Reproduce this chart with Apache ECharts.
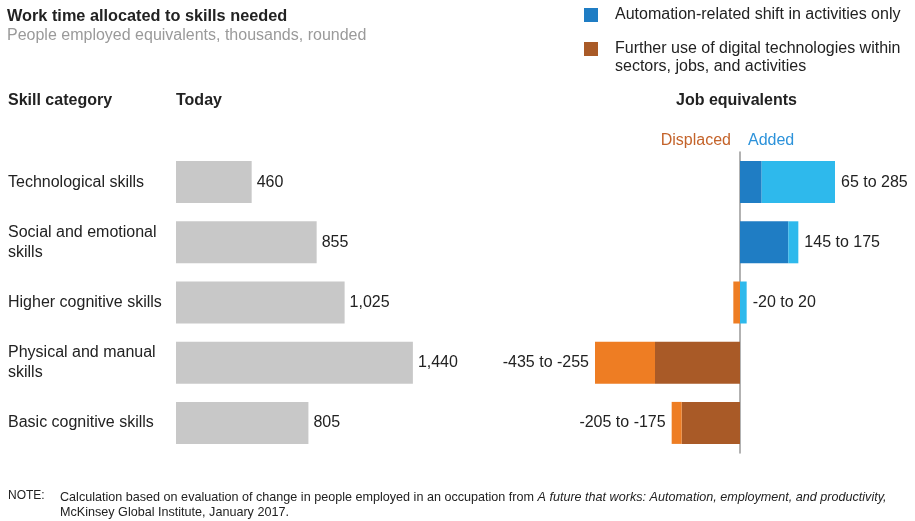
<!DOCTYPE html>
<html>
<head>
<meta charset="utf-8">
<script src="https://cdn.jsdelivr.net/npm/echarts@6/dist/echarts.min.js"></script>
<style>
html,body{margin:0;padding:0;background:#fff;}
#c{width:915px;height:521px;}
</style>
</head>
<body>
<div id="c"></div>
<script>
const categories = ['Technological skills', 'Social and emotional\nskills', 'Higher cognitive skills', 'Physical and manual\nskills', 'Basic cognitive skills'];
const todayValues = [460, 855, 1025, 1440, 805];
const addedAutomation = [65, 145, null, null, null];
const addedFurther = [220, 30, 20, null, null];
const displacedAutomation = [null, null, null, -255, -175];
const displacedFurther = [null, null, -20, -180, -30];
const rangeLow = [65, 145, -20, -435, -205];
const rangeHigh = [285, 175, 20, -255, -175];
const labelSide = ['right', 'right', 'right', 'left', 'left'];

const FONT = '"Liberation Sans", Arial, sans-serif';
const FS = 16;
const rangeText = categories.map((c, i) => rangeLow[i] + ' to ' + rangeHigh[i]);

function labelled(arr, side) {
  return arr.map((v, i) => ({
    value: v,
    label: {
      show: labelSide[i] === side && v !== null,
      position: side,
      distance: 6,
      formatter: rangeText[i],
      fontSize: FS, color: '#222', fontFamily: FONT
    }
  }));
}

const chart = echarts.init(document.getElementById('c'));
chart.setOption({
  animation: false,
  textStyle: { fontFamily: FONT },
  title: {
    left: 2, top: 4,
    text: 'Work time allocated to skills needed',
    subtext: 'People employed equivalents, thousands, rounded',
    itemGap: 3,
    textStyle: { fontSize: 16.3, fontWeight: 'bold', color: '#222', fontFamily: FONT },
    subtextStyle: { fontSize: FS, color: '#9a9a9a', fontFamily: FONT }
  },
  grid: [
    { left: 176, top: 152, width: 329, height: 301 },
    { left: 590, top: 152, width: 250, height: 301 }
  ],
  xAxis: [
    { gridIndex: 0, type: 'value', min: 0, max: 2000, show: false },
    { gridIndex: 1, type: 'value', min: -450, max: 300, show: false }
  ],
  yAxis: [
    {
      gridIndex: 0, type: 'category', data: categories, inverse: true,
      axisLine: { show: false }, axisTick: { show: false },
      axisLabel: { align: 'left', margin: 168, fontSize: FS, color: '#222', lineHeight: 20, fontFamily: FONT }
    },
    {
      gridIndex: 1, type: 'category', data: categories, inverse: true,
      axisLine: { show: true, onZero: true, lineStyle: { color: '#999', width: 1.5 } },
      axisTick: { show: false }, axisLabel: { show: false }
    }
  ],
  series: [
    {
      type: 'bar', xAxisIndex: 0, yAxisIndex: 0, data: todayValues, barWidth: 42,
      itemStyle: { color: '#c8c8c8' },
      label: {
        show: true, position: 'right', distance: 5, fontSize: FS, color: '#222', fontFamily: FONT,
        formatter: p => p.value.toLocaleString('en-US')
      }
    },
    {
      type: 'bar', xAxisIndex: 1, yAxisIndex: 1, stack: 'r', barWidth: 42,
      data: addedAutomation, itemStyle: { color: '#1f7dc4' }
    },
    {
      type: 'bar', xAxisIndex: 1, yAxisIndex: 1, stack: 'r', barWidth: 42,
      data: labelled(addedFurther, 'right'), itemStyle: { color: '#2eb9ec' }
    },
    {
      type: 'bar', xAxisIndex: 1, yAxisIndex: 1, stack: 'r', barWidth: 42,
      data: displacedAutomation, itemStyle: { color: '#a95a27' }
    },
    {
      type: 'bar', xAxisIndex: 1, yAxisIndex: 1, stack: 'r', barWidth: 42,
      data: labelled(displacedFurther, 'left'), itemStyle: { color: '#ee7d23' }
    }
  ],
  graphic: [
    { type: 'rect', shape: { x: 584, y: 8, width: 14, height: 14 }, style: { fill: '#1f7dc4' } },
    { type: 'text', left: 615, top: 7, style: { text: 'Automation-related shift in activities only', fontSize: FS, fill: '#222', fontFamily: FONT } },
    { type: 'rect', shape: { x: 584, y: 42, width: 14, height: 14 }, style: { fill: '#a95a27' } },
    { type: 'text', left: 615, top: 40, style: { text: 'Further use of digital technologies within\nsectors, jobs, and activities', fontSize: FS, lineHeight: 18, fill: '#222', fontFamily: FONT } },
    { type: 'text', left: 8, top: 93, style: { text: 'Skill category', fontSize: FS, fontWeight: 'bold', fill: '#222', fontFamily: FONT } },
    { type: 'text', left: 176, top: 93, style: { text: 'Today', fontSize: FS, fontWeight: 'bold', fill: '#222', fontFamily: FONT } },
    { type: 'text', left: 676, top: 93, style: { text: 'Job equivalents', fontSize: FS, fontWeight: 'bold', fill: '#222', fontFamily: FONT } },
    { type: 'text', right: 915 - 731, top: 133, style: { text: 'Displaced', fontSize: FS, fill: '#c4632a', fontFamily: FONT } },
    { type: 'text', left: 748, top: 133, style: { text: 'Added', fontSize: FS, fill: '#2c92da', fontFamily: FONT } },
    { type: 'text', left: 8, top: 490, style: { text: 'NOTE:', fontSize: 12, fill: '#222', fontFamily: FONT } },
    { type: 'text', left: 60, top: 490, style: {
      text: '{n|Calculation based on evaluation of change in people employed in an occupation from }{i|A future that works: Automation, employment, and productivity,}\n{n|McKinsey Global Institute, January 2017.}',
      lineHeight: 15,
      rich: {
        n: { fontSize: 12.6, fill: '#222', fontFamily: FONT, lineHeight: 15 },
        i: { fontSize: 12.6, fill: '#222', fontStyle: 'italic', fontFamily: FONT, lineHeight: 15 }
      }
    } }
  ]
});
</script>
</body>
</html>
